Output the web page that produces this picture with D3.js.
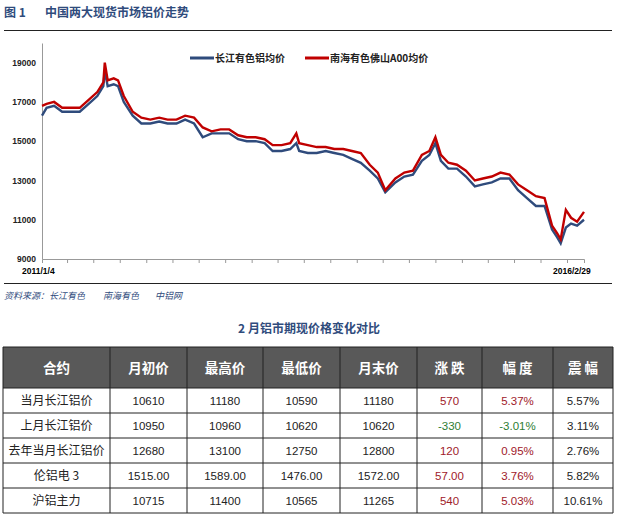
<!DOCTYPE html>
<html><head><meta charset="utf-8">
<script src="https://cdn.jsdelivr.net/npm/d3@7"></script>
<style>body{margin:0;background:#fff}svg{font-family:"Noto Sans CJK SC","Noto Sans",sans-serif}</style>
</head><body><svg id="c" width="617" height="522"></svg>
<script>
// 月度取样（部分月份加了峰值点）
const dates = ["2011-01-04","2011-01-20","2011-02-15","2011-03-15","2011-04-15","2011-05-15","2011-06-15","2011-07-15","2011-08-05","2011-08-10","2011-08-20","2011-09-10","2011-09-25","2011-10-15","2011-11-15","2011-12-15",
"2012-01-15","2012-02-15","2012-03-15","2012-04-15","2012-05-15","2012-06-15","2012-07-15","2012-08-15","2012-09-15","2012-10-15","2012-11-15","2012-12-15",
"2013-01-15","2013-02-15","2013-03-15","2013-04-15","2013-05-15","2013-06-05","2013-06-15","2013-07-15","2013-08-15","2013-09-15","2013-10-15","2013-11-15","2013-12-15",
"2014-01-15","2014-02-15","2014-03-15","2014-04-10","2014-05-15","2014-06-15","2014-07-15","2014-08-15","2014-09-10","2014-10-01","2014-10-20","2014-11-15","2014-12-15",
"2015-01-15","2015-02-15","2015-03-15","2015-04-15","2015-05-15","2015-06-15","2015-07-15","2015-08-15","2015-09-15","2015-10-15","2015-11-10","2015-11-28","2015-12-10","2015-12-28","2016-01-15","2016-02-05","2016-02-29"];
const cjSeries = [16300,16700,16800,16500,16500,16500,16900,17300,17800,18600,17800,17900,17800,17000,16300,15900,
15900,16000,15900,15900,16100,15900,15200,15400,15400,15400,15100,15000,
15000,14900,14500,14500,14600,14900,14500,14400,14400,14500,14400,14300,14100,
13900,13500,13100,12400,12900,13200,13300,14000,14300,14900,14000,13600,13600,
13200,12700,12800,12900,13100,13100,12500,12100,11700,11700,10500,10100,9800,10600,10800,10700,11000];
const nhSeries = [16800,16900,17000,16700,16700,16700,17100,17500,18000,19000,18100,18200,18100,17300,16500,16200,
16100,16200,16100,16100,16300,16200,15700,15500,15600,15600,15300,15200,
15200,15100,14800,14800,14900,15400,14900,14800,14700,14700,14600,14600,14500,
14400,13800,13400,12500,13100,13400,13500,14300,14500,15200,14300,13900,13800,
13500,13000,13100,13200,13400,13300,12800,12500,12200,12100,10700,10300,10000,11500,11100,10900,11400];
const yTicks = [9000,11000,13000,15000,17000,19000];
const legendNames = ["长江有色铝均价","南海有色佛山A00均价"];
const colors = ["#2f4b7c","#c00000"];
const sourceNames = ["资料来源：长江有色","南海有色","中铝网"];

const tblTitle = "2 月铝市期现价格变化对比";
const headers = ["合约","月初价","最高价","最低价","月末价","涨 跌","幅 度","震 幅"];
const rowNames = ["当月长江铝价","上月长江铝价","去年当月长江铝价","伦铝电 3","沪铝主力"];
const openP = ["10610","10950","12680","1515.00","10715"];
const highP = ["11180","10960","13100","1589.00","11400"];
const lowP = ["10590","10620","12750","1476.00","10565"];
const closeP = ["11180","10620","12800","1572.00","11265"];
const chg = ["570","-330","120","57.00","540"];
const pct = ["5.37%","-3.01%","0.95%","3.76%","5.03%"];
const amp = ["5.57%","3.11%","2.76%","5.82%","10.61%"];

const svg = d3.select("#c");
svg.append("text").attr("x",4).attr("y",17).attr("fill","#2f4b7c").attr("font-size",12).attr("font-weight","bold").text("图 1");
svg.append("text").attr("x",45).attr("y",17).attr("fill","#2f4b7c").attr("font-size",12).attr("font-weight","bold").text("中国两大现货市场铝价走势");
svg.append("line").attr("x1",4).attr("x2",612).attr("y1",30.5).attr("y2",30.5).attr("stroke","#222");

const parse = d3.timeParse("%Y-%m-%d");
const ds = dates.map(parse);
const x = d3.scaleTime().domain([ds[0], ds[ds.length-1]]).range([42,584]);
const y = d3.scaleLinear().domain([9000,20000]).range([259,43]);

const yAxis = svg.append("g").attr("transform","translate(42,0)").call(d3.axisLeft(y).tickValues(yTicks).tickSize(0).tickFormat(d3.format("d")));
yAxis.select(".domain").attr("stroke","#999");
yAxis.selectAll("text").attr("font-size",8.5).attr("font-weight","bold").attr("fill","#222").attr("font-family","Liberation Sans").attr("x",-6);
const xAxis = svg.append("g").attr("transform","translate(0,259)").call(d3.axisBottom(x).ticks(d3.timeMonth.every(3)).tickSize(4).tickFormat(""));
xAxis.select(".domain").attr("stroke","#999");
xAxis.selectAll("line").attr("stroke","#999");
svg.append("text").attr("x",22).attr("y",274).attr("font-size",8.5).attr("font-weight","bold").attr("font-family","Liberation Sans").text("2011/1/4");
svg.append("text").attr("x",553).attr("y",274).attr("font-size",8.5).attr("font-weight","bold").attr("font-family","Liberation Sans").text("2016/2/29");

const line = d3.line().x((d,i)=>x(ds[i])).y(d=>y(d));
[cjSeries,nhSeries].forEach((s,k)=>{
  svg.append("path").datum(s).attr("d",line).attr("fill","none").attr("stroke",colors[k]).attr("stroke-width",2.4);
});
const lx=[190,305];
legendNames.forEach((n,k)=>{
  svg.append("line").attr("x1",lx[k]).attr("x2",lx[k]+24).attr("y1",58).attr("y2",58).attr("stroke",colors[k]).attr("stroke-width",3);
  svg.append("text").attr("x",lx[k]+25).attr("y",62).attr("font-size",10).attr("font-weight","bold").attr("fill","#222").text(n);
});

svg.append("line").attr("x1",4).attr("x2",612).attr("y1",283.5).attr("y2",283.5).attr("stroke","#222");
const sx=[4,103,155];
sourceNames.forEach((s,i)=>svg.append("text").attr("x",sx[i]).attr("y",299).attr("font-size",9).attr("font-style","italic").attr("fill","#2f4b7c").text(s));

// 表格
svg.append("text").attr("x",309).attr("y",333).attr("text-anchor","middle").attr("font-size",12).attr("font-weight","bold").attr("fill","#2f4b7c").text(tblTitle);
const colX = [3,110,187,263,340,417,482,553,613];
const tTop = 347, headH = 41, rowH = 25;
svg.append("rect").attr("x",3).attr("y",tTop).attr("width",610).attr("height",headH).attr("fill","#595959");
headers.forEach((h,i)=>{
  svg.append("text").attr("x",(colX[i]+colX[i+1])/2).attr("y",tTop+headH/2+5).attr("text-anchor","middle").attr("font-size",13.5).attr("font-weight","bold").attr("fill","#fff").text(h);
});
const cols = [rowNames,openP,highP,lowP,closeP,chg,pct,amp];
rowNames.forEach((r,j)=>{
  const ry = tTop+headH+j*rowH;
  cols.forEach((c,i)=>{
    let fill="#222";
    if(i===5||i===6) fill = c[j].startsWith("-") ? "#2e7d32" : "#a0202a";
    svg.append("text").attr("x",(colX[i]+colX[i+1])/2).attr("y",ry+rowH/2+4.5).attr("text-anchor","middle")
      .attr("font-size",i===0?12:11.5).attr("fill",fill).attr("font-family",i===0?null:"Liberation Sans").text(c[j]);
  });
});
const bottom = tTop+headH+rowNames.length*rowH;
colX.forEach(cx=>svg.append("line").attr("x1",cx).attr("x2",cx).attr("y1",tTop).attr("y2",bottom).attr("stroke","#222"));
[tTop,tTop+headH,...rowNames.map((r,j)=>tTop+headH+(j+1)*rowH)].forEach(ly=>
  svg.append("line").attr("x1",3).attr("x2",613).attr("y1",ly).attr("y2",ly).attr("stroke","#222"));
</script></body></html>
